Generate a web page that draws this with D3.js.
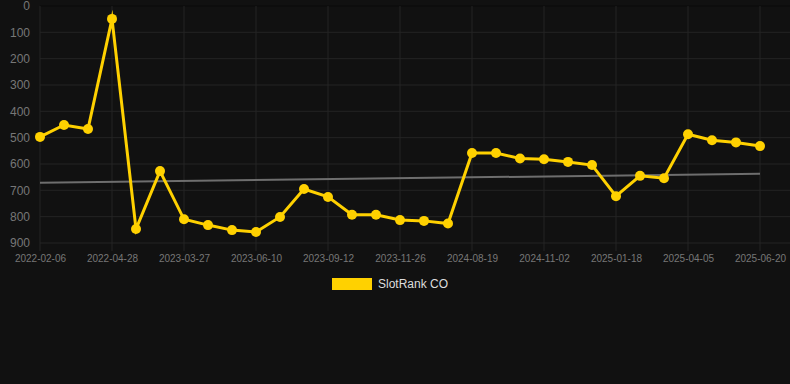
<!DOCTYPE html>
<html>
<head>
<meta charset="utf-8">
<script src="https://cdn.jsdelivr.net/npm/d3@7"></script>
<style>
  html, body { margin: 0; padding: 0; background: #111111; }
  svg { display: block; font-family: "Liberation Sans", Arial, sans-serif; }
</style>
</head>
<body>
<div id="chart"></div>
<script>
// -------------------- DATA --------------------
const DATES = [
  "2022-02-06", "2022-03-05", "2022-04-01", "2022-04-28", "2022-05-25", "2023-02-28",
  "2023-03-27", "2023-04-10", "2023-05-15", "2023-06-10", "2023-07-06", "2023-08-10",
  "2023-09-12", "2023-10-09", "2023-11-01", "2023-11-26", "2024-01-20", "2024-06-15",
  "2024-08-19", "2024-09-12", "2024-10-08", "2024-11-02", "2024-11-28", "2024-12-22",
  "2025-01-18", "2025-02-12", "2025-03-10", "2025-04-05", "2025-04-30", "2025-05-25",
  "2025-06-20"
];
const RANKS = [
  497, 452, 467, 49, 847, 627, 810, 832, 851, 858, 801, 695,
  725, 793, 793, 813, 816, 826, 558, 558, 579, 582, 592, 604,
  722, 645, 654, 487, 510, 518, 532
];
const TREND = [671, 637]; // start / end of the trend line
const SERIES_NAME = "SlotRank CO";
const Y_TICKS = [0, 100, 200, 300, 400, 500, 600, 700, 800, 900];

// -------------------- LAYOUT --------------------
const W = 790, H = 384;
const plot = { left: 40, right: 760, top: 6, bottom: 243 };
const GOLD = "#ffd100";

const svg = d3.select("#chart").append("svg")
  .attr("width", W)
  .attr("height", H);

svg.append("rect").attr("width", W).attr("height", H).attr("fill", "#111111");

const x = d3.scalePoint()
  .domain(DATES)
  .range([plot.left, plot.right]);

const y = d3.scaleLinear()
  .domain([0, 900])
  .range([plot.top, plot.bottom]);

// -------------------- GRID --------------------
const labelDates = DATES.filter((d, i) => i % 3 === 0);

svg.append("g")
  .selectAll("line")
  .data(Y_TICKS)
  .join("line")
  .attr("x1", plot.left).attr("x2", W)
  .attr("y1", d => y(d)).attr("y2", d => y(d))
  .attr("stroke", d => d === 0 ? "#0b0b0b" : "#242424")
  .attr("stroke-width", 1);

svg.append("g")
  .selectAll("line")
  .data(labelDates)
  .join("line")
  .attr("x1", d => x(d)).attr("x2", d => x(d))
  .attr("y1", plot.top).attr("y2", plot.bottom + 8)
  .attr("stroke", "#242424")
  .attr("stroke-width", 1);

// -------------------- AXES --------------------
const yAxis = svg.append("g")
  .attr("transform", `translate(${plot.left},0)`)
  .call(d3.axisLeft(y).tickValues(Y_TICKS).tickSize(0).tickPadding(10));
yAxis.select(".domain").remove();
yAxis.selectAll("text")
  .attr("fill", "#777777")
  .style("font-size", "12px")
  .style("font-family", "Liberation Sans, Arial, sans-serif");

const xAxis = svg.append("g")
  .attr("transform", `translate(0,${plot.bottom})`)
  .call(d3.axisBottom(x).tickValues(labelDates).tickSize(0).tickPadding(12));
xAxis.select(".domain").remove();
xAxis.selectAll("text")
  .attr("fill", "#777777")
  .style("font-size", "10px")
  .style("font-family", "Liberation Sans, Arial, sans-serif");

// -------------------- TREND --------------------
svg.append("line")
  .attr("x1", x(DATES[0])).attr("y1", y(TREND[0]))
  .attr("x2", x(DATES[DATES.length - 1])).attr("y2", y(TREND[1]))
  .attr("stroke", "#6e6e6e")
  .attr("stroke-width", 2);

// -------------------- LINE + POINTS --------------------
const points = DATES.map((d, i) => ({ date: d, rank: RANKS[i] }));

svg.append("path")
  .datum(points)
  .attr("fill", "none")
  .attr("stroke", GOLD)
  .attr("stroke-width", 3)
  .attr("stroke-linejoin", "miter")
  .attr("stroke-miterlimit", 10)
  .attr("d", d3.line().x(d => x(d.date)).y(d => y(d.rank)));

svg.append("g")
  .selectAll("circle")
  .data(points)
  .join("circle")
  .attr("cx", d => x(d.date))
  .attr("cy", d => y(d.rank))
  .attr("r", 5)
  .attr("fill", GOLD);

// -------------------- LEGEND --------------------
const legend = svg.append("g").attr("transform", "translate(332,278)");
legend.append("rect")
  .attr("width", 40).attr("height", 12)
  .attr("fill", GOLD);
legend.append("text")
  .attr("x", 46).attr("y", 6)
  .attr("dy", "0.35em")
  .attr("fill", "#dddddd")
  .style("font-size", "12px")
  .text(SERIES_NAME);
</script>
</body>
</html>
